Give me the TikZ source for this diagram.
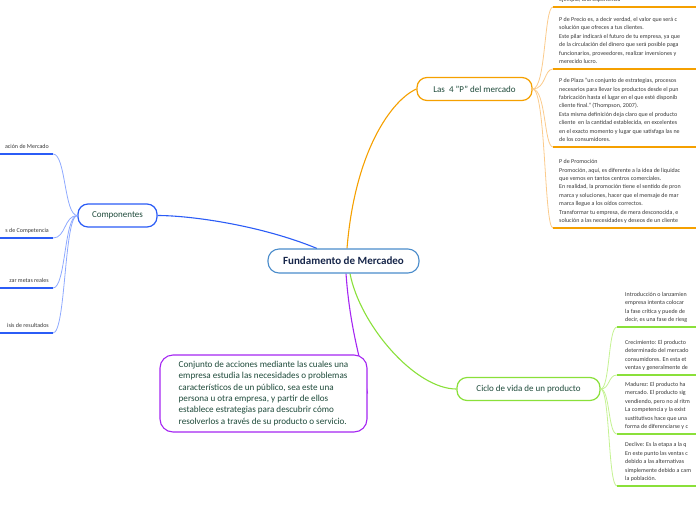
\documentclass[tikz,border=0pt]{standalone}
\usepackage{fontspec}
\setmainfont{Carlito}
\usetikzlibrary{backgrounds}
\definecolor{cblue}{HTML}{4A8CCB}
\definecolor{navy}{HTML}{17264A}
\definecolor{darkg}{HTML}{1E4A3A}
\definecolor{txt}{HTML}{383838}
\definecolor{orA}{HTML}{F5A000}
\definecolor{orL}{HTML}{FBCB8C}
\definecolor{blN}{HTML}{2B5CF6}
\definecolor{blL}{HTML}{8EA9FF}
\definecolor{grN}{HTML}{8AE03A}
\definecolor{grL}{HTML}{C4F292}
\definecolor{pu}{HTML}{A526F2}
\begin{document}
\begin{tikzpicture}[x=1pt,y=-1pt,
  catbox/.style={draw, line width=1.2pt, rounded corners=10pt, fill=white, minimum height=23pt, inner sep=0pt, text=darkg, font=\fontsize{9}{11}\selectfont},
  childtxt/.style={inner sep=0pt, anchor=base west, align=left, text=txt, font=\fontsize{6}{8.4}\selectfont},
  lefttxt/.style={inner sep=0pt, anchor=base east, text=txt, font=\fontsize{6}{8.4}\selectfont},
  mainline/.style={line width=1.1pt},
  ounder/.style={draw=orA, line width=1.5pt},
  obranch/.style={draw=orL, line width=0.8pt},
  bunder/.style={draw=blN, line width=1.5pt},
  bbranch/.style={draw=blL, line width=0.8pt},
  gunder/.style={draw=grN, line width=1.5pt},
  gbranch/.style={draw=grL, line width=0.8pt}]
\useasboundingbox (0,0) rectangle (696,520);
\clip (0,0) rectangle (696,520);

% main nodes
\node[draw=cblue, line width=1.1pt, rounded corners=11pt, fill=white, minimum width=151pt, minimum height=24pt, inner sep=0pt, text=navy, font=\fontsize{11}{13}\selectfont\bfseries] (c) at (343.5,261) {Fundamento de Mercadeo};
\node[catbox, draw=orA, minimum width=115pt] (p4) at (474.5,89) {Las\ \ 4 "P" del mercado};
\node[catbox, draw=blN, minimum width=79pt] (cp) at (117.5,215.5) {Componentes};
\node[catbox, draw=grN, minimum width=143pt] (cy) at (528.5,389) {Ciclo de vida de un producto};
\node[draw=pu, line width=1.1pt, rounded corners=13pt, fill=white, minimum width=207pt, minimum height=77pt, inner sep=0pt, align=left, text=darkg, font=\fontsize{9.1}{11.3}\selectfont] (nt) at (263.5,393.5) {Conjunto de acciones mediante las cuales una\\empresa estudia las necesidades o problemas\\característicos de un público, sea este una\\persona u otra empresa, y partir de ellos\\establece estrategias para descubrir cómo\\resolverlos a través de su producto o servicio.};

% main connectors
\begin{pgfonlayer}{background}
\draw[mainline, draw=orA] ([xshift=3.5pt]c.north) .. controls (355,150) and (392,100) .. (p4.west);
\draw[mainline, draw=blN] ([xshift=-26.5pt]c.north) .. controls (260,225) and (190,215.5) .. (cp.east);
\draw[mainline, draw=grN] ([xshift=6.5pt]c.south) .. controls (360,325) and (415,389) .. (cy.west);
\draw[mainline, draw=pu] ([xshift=2.5pt]c.south) .. controls (350,330) and (362,365) .. (nt.east);
\end{pgfonlayer}

% ---- Las 4 P children
\coordinate (o1) at (553,7);
\coordinate (o2) at (553,69);
\coordinate (o3) at (553,147);
\coordinate (o4) at (553,228);
\draw[obranch] (p4.east) .. controls (546,89) and (544,7) .. (o1);
\draw[obranch] (p4.east) .. controls (546,89) and (544,69) .. (o2);
\draw[obranch] (p4.east) .. controls (546,89) and (544,147) .. (o3);
\draw[obranch] (p4.east) .. controls (546,89) and (544,228) .. (o4);
\draw[ounder] (o1) -- ++(150,0);
\draw[ounder] (o2) -- ++(150,0);
\draw[ounder] (o3) -- ++(150,0);
\draw[ounder] (o4) -- ++(150,0);

\node[childtxt] (t1) at (559,1.5) {ejemplo, una experiencia};
\node[childtxt] (t2) at (559,63.5) {P de Precio es, a decir verdad, el valor que será c\\solución que ofreces a tus clientes.\\Este pilar indicará el futuro de tu empresa, ya que\\de la circulación del dinero que será posible paga\\funcionarios, proveedores, realizar inversiones y\\merecido lucro.};
\node[childtxt] (t3) at (559,141.5) {P de Plaza "un conjunto de estrategias, procesos\\necesarios para llevar los productos desde el pun\\fabricación hasta el lugar en el que esté disponib\\cliente final." (Thompson, 2007).\\Esta misma definición deja claro que el producto\\cliente\ \ en la cantidad establecida, en excelentes\\en el exacto momento y lugar que satisfaga las ne\\de los consumidores.};
\node[childtxt] (t4) at (559,222.5) {P de Promoción\\Promoción, aquí, es diferente a la idea de liquidac\\que vemos en tantos centros comerciales.\\En realidad, la promoción tiene el sentido de pron\\marca y soluciones, hacer que el mensaje de mar\\marca llegue a los oídos correctos.\\Transformar tu empresa, de mera desconocida, e\\solución a las necesidades y deseos de un cliente};

% ---- Componentes children
\coordinate (b1) at (53,154);
\coordinate (b2) at (53,238);
\coordinate (b3) at (53,288);
\coordinate (b4) at (53,333);
\draw[bbranch] (cp.west) .. controls (64,215.5) and (66,154) .. (b1);
\draw[bbranch] (cp.west) .. controls (64,215.5) and (66,238) .. (b2);
\draw[bbranch] (cp.west) .. controls (64,215.5) and (66,288) .. (b3);
\draw[bbranch] (cp.west) .. controls (64,215.5) and (66,333) .. (b4);
\draw[bunder] (b1) -- ++(-60,0);
\draw[bunder] (b2) -- ++(-60,0);
\draw[bunder] (b3) -- ++(-60,0);
\draw[bunder] (b4) -- ++(-60,0);
\node[lefttxt] (l1) at (49,148.5) {ación de Mercado};
\node[lefttxt] (l2) at (49,232.5) {s de Competencia};
\node[lefttxt] (l3) at (49,282.5) {zar metas reales};
\node[lefttxt] (l4) at (49,327.5) {isis de resultados};

% ---- Ciclo children
\coordinate (g1) at (617,327);
\coordinate (g2) at (617,375);
\coordinate (g3) at (617,434);
\coordinate (g4) at (617,486);
\draw[gbranch] (cy.east) .. controls (610,389) and (608,327) .. (g1);
\draw[gbranch] (cy.east) .. controls (610,389) and (608,375) .. (g2);
\draw[gbranch] (cy.east) .. controls (610,389) and (608,434) .. (g3);
\draw[gbranch] (cy.east) .. controls (610,389) and (608,486) .. (g4);
\draw[gunder] (g1) -- ++(90,0);
\draw[gunder] (g2) -- ++(90,0);
\draw[gunder] (g3) -- ++(90,0);
\draw[gunder] (g4) -- ++(90,0);
\node[childtxt] (s1) at (625,321.5) {Introducción o lanzamien\\empresa intenta colocar\\la fase crítica y puede de\\decir, es una fase de riesg};
\node[childtxt] (s2) at (625,369.5) {Crecimiento: El producto\\determinado del mercado\\consumidores. En esta et\\ventas y generalmente de};
\node[childtxt] (s3) at (625,428.5) {Madurez: El producto ha\\mercado. El producto sig\\vendiendo, pero no al ritm\\La competencia y la exist\\sustitutivos hace que una\\forma de diferenciarse y c};
\node[childtxt] (s4) at (625,480.5) {Declive: Es la etapa a la q\\En este punto las ventas c\\debido a las alternativas\\simplemente debido a cam\\la población.};
\end{tikzpicture}
\end{document}
